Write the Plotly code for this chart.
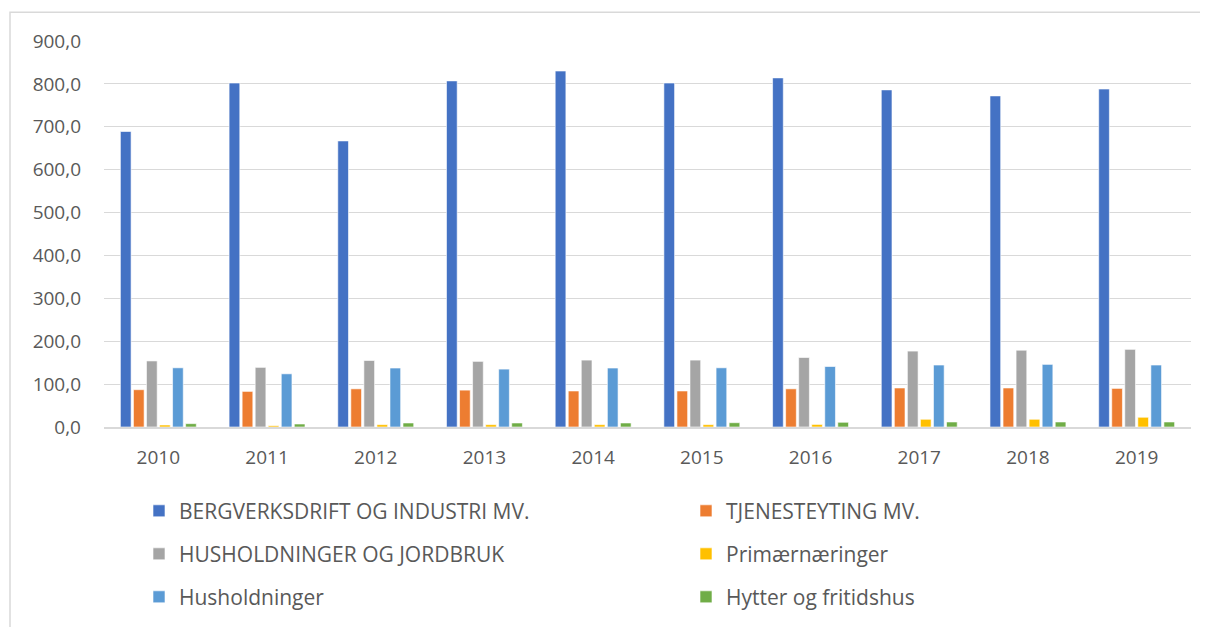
import plotly.graph_objects as go

years = ["2010", "2011", "2012", "2013", "2014", "2015", "2016", "2017", "2018", "2019"]
bergverk = [689, 802, 667, 807, 830, 802, 814, 786, 772, 788]
tjeneste = [87, 83, 89, 86, 84, 84, 89, 91, 91, 90]
hush_jord = [154, 139, 155, 153, 156, 156, 162, 177, 179, 181]
primaer = [4.7, 3, 5.5, 5.5, 5.5, 5.5, 6, 18, 18, 22.7]
husholdninger = [138, 124, 137.5, 135, 137.5, 138, 141, 144.5, 146, 144.5]
hytter = [7.8, 7, 9.4, 9.4, 9.4, 10, 11, 11.7, 11.7, 11.7]

names = ["BERGVERKSDRIFT OG INDUSTRI MV.", "TJENESTEYTING MV.", "HUSHOLDNINGER OG JORDBRUK",
         "Primærnæringer", "Husholdninger", "Hytter og fritidshus"]
series = [bergverk, tjeneste, hush_jord, primaer, husholdninger, hytter]
colors = ["#4472C4", "#ED7D31", "#A5A5A5", "#FFC000", "#5B9BD5", "#70AD47"]
legends = ["legend", "legend2", "legend", "legend2", "legend", "legend2"]

FONT = "Open Sans"
TXT = "#595959"

fig = go.Figure()
for i, (n, s, c, lg) in enumerate(zip(names, series, colors, legends)):
    fig.add_trace(go.Bar(x=years, y=s, name=n, marker=dict(color=c, line=dict(color="white", width=0.6)),
                         legend=lg, legendgroup=n))

# page body has an 8px margin: work in screen coords, convert to figure coords
OFF = 8
W, H = 1208 - 2 * OFF, 627 - OFF
L, T = 104 - OFF, 41 - OFF
R = W - (1191 - OFF)
B = H - (429 - OFF)
pw, ph = W - L - R, H - T - B

def px(xs):
    return (xs - OFF - L) / pw

def py(ys):
    return (H - B - (ys - OFF)) / ph

fig.update_layout(
    width=W, height=H,
    margin=dict(l=L, r=R, t=T, b=B),
    paper_bgcolor="white", plot_bgcolor="white",
    separators=",.",
    barmode="group", bargap=0.28, bargroupgap=0.18,
    font=dict(family=FONT, color=TXT, size=19),
    xaxis=dict(showgrid=False, showline=True, linecolor="#d9d9d9", linewidth=1.5,
               ticks="", tickfont=dict(size=19, color=TXT), ticklabelstandoff=12),
    yaxis=dict(range=[0, 900], dtick=100, tickformat=".1f", showgrid=True, gridcolor="#d9d9d9",
               gridwidth=1, zeroline=False, showline=False, ticks="",
               tickfont=dict(size=19, color=TXT), ticklabelstandoff=22),
    legend=dict(x=px(131 + OFF), y=py(493), xanchor="left", yanchor="top", orientation="v",
                tracegroupgap=12.7, font=dict(size=21, color=TXT), bgcolor="rgba(0,0,0,0)"),
    legend2=dict(x=px(678 + OFF), y=py(493), xanchor="left", yanchor="top", orientation="v",
                 tracegroupgap=12.7, font=dict(size=21, color=TXT), bgcolor="rgba(0,0,0,0)"),
    shapes=[dict(type="path", xref="paper", yref="paper",
                 path=f"M {px(10)} {py(700)} L {px(10)} {py(12)} L {px(1300)} {py(12)}",
                 line=dict(color="#d9d9d9", width=1.5))],
)

fig.write_html("out.html")
